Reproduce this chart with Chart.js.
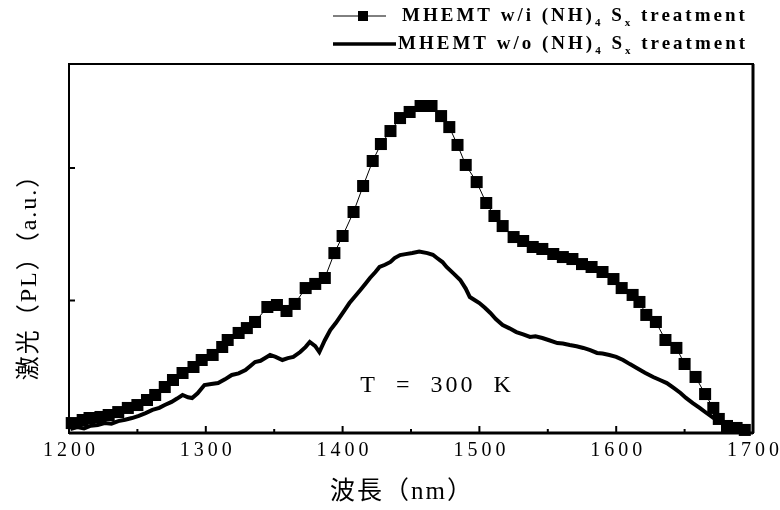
<!DOCTYPE html>
<html>
<head>
<meta charset="utf-8">
<script src="https://cdn.jsdelivr.net/npm/chart.js@4.4.1/dist/chart.umd.min.js"></script>
<style>
  html, body { margin: 0; padding: 0; background: #fff; }
</style>
</head>
<body>
<canvas id="myChart" width="780" height="510"></canvas>
<script>
// wavelength (nm) and PL intensity (a.u.)
const withNm = [1202, 1210, 1215, 1223, 1229, 1236, 1243, 1250, 1257, 1263, 1270, 1276, 1283, 1291, 1297,
  1305, 1312, 1316, 1324, 1330, 1336, 1345, 1352, 1359, 1365, 1373, 1380, 1387, 1394, 1400,
  1408, 1415, 1422, 1428, 1435, 1442, 1449, 1457, 1465, 1472, 1478, 1484, 1490, 1498, 1505,
  1511, 1517, 1525, 1532, 1539, 1546, 1554, 1561, 1568, 1575, 1582, 1590, 1598, 1604, 1612,
  1617, 1622, 1629, 1636, 1644, 1650, 1658, 1665, 1671, 1675, 1681, 1688, 1694];
const withVals = [0.075, 0.098, 0.113, 0.121, 0.136, 0.158, 0.189, 0.211, 0.249, 0.287, 0.347, 0.400, 0.453, 0.498, 0.551,
  0.589, 0.649, 0.702, 0.755, 0.792, 0.838, 0.951, 0.966, 0.921, 0.974, 1.094, 1.125, 1.170, 1.358, 1.487,
  1.668, 1.864, 2.053, 2.181, 2.279, 2.377, 2.423, 2.468, 2.468, 2.392, 2.309, 2.174, 2.023, 1.894, 1.736,
  1.638, 1.562, 1.479, 1.449, 1.404, 1.389, 1.351, 1.328, 1.313, 1.275, 1.253, 1.215, 1.162, 1.094, 1.042,
  0.989, 0.891, 0.838, 0.702, 0.642, 0.521, 0.423, 0.294, 0.189, 0.106, 0.053, 0.038, 0.023];

const withoutNm = [1201, 1206, 1211, 1216, 1221, 1226, 1231, 1236, 1241, 1246, 1251, 1256, 1261, 1266, 1270,
  1275, 1279, 1283, 1287, 1290, 1294, 1299, 1304, 1309, 1314, 1319, 1324, 1329, 1333, 1336,
  1340, 1344, 1347, 1351, 1356, 1360, 1364, 1369, 1373, 1376, 1380, 1383, 1387, 1391, 1395,
  1398, 1402, 1405, 1409, 1413, 1417, 1420, 1424, 1427, 1431, 1435, 1438, 1442, 1446, 1451,
  1456, 1462, 1466, 1469, 1473, 1476, 1481, 1486, 1490, 1493, 1497, 1500, 1504, 1508, 1512,
  1517, 1522, 1527, 1532, 1537, 1541, 1546, 1551, 1557, 1561, 1566, 1571, 1576, 1581, 1586,
  1590, 1595, 1600, 1605, 1610, 1615, 1621, 1627, 1632, 1637, 1642, 1647, 1651, 1656, 1661,
  1666, 1671, 1676, 1680, 1685, 1690, 1696];
const withoutVals = [0.030, 0.045, 0.035, 0.055, 0.060, 0.075, 0.070, 0.090, 0.100, 0.113, 0.130, 0.150, 0.174, 0.190, 0.211,
  0.235, 0.260, 0.287, 0.270, 0.264, 0.300, 0.362, 0.370, 0.377, 0.405, 0.438, 0.450, 0.475, 0.510, 0.536,
  0.545, 0.570, 0.589, 0.575, 0.551, 0.565, 0.574, 0.611, 0.650, 0.687, 0.655, 0.611, 0.700, 0.777, 0.830,
  0.875, 0.935, 0.981, 1.030, 1.079, 1.130, 1.170, 1.215, 1.253, 1.270, 1.291, 1.320, 1.343, 1.350, 1.358,
  1.370, 1.358, 1.345, 1.321, 1.290, 1.253, 1.205, 1.155, 1.090, 1.026, 1.000, 0.981, 0.945, 0.906, 0.860,
  0.815, 0.790, 0.762, 0.745, 0.725, 0.730, 0.717, 0.700, 0.679, 0.675, 0.664, 0.655, 0.642, 0.625, 0.604,
  0.600, 0.589, 0.575, 0.551, 0.520, 0.491, 0.455, 0.423, 0.400, 0.377, 0.340, 0.302, 0.265, 0.226, 0.190,
  0.151, 0.115, 0.083, 0.060, 0.038, 0.020, 0.008];

const xTicks = [1200, 1300, 1400, 1500, 1600, 1700];
const yTicks = [1, 2];

const serif = "'Liberation Serif', 'Times New Roman', serif";
const cjk = "'Liberation Serif', 'Noto Sans CJK TC', 'Noto Sans CJK SC', serif";

// text with subscripts, drawn piece by piece
function richText(ctx, parts, x, y) {
  parts.forEach(p => {
    ctx.font = p.sub ? 'bold 11px ' + serif : 'bold 19px ' + serif;
    ctx.fillText(p.t, x, p.sub ? y + 7 : y);
    x += ctx.measureText(p.t).width;
  });
}

const decor = {
  id: 'decor',
  afterDraw(chart) {
    const { ctx, chartArea: a, scales: { x, y } } = chart;
    ctx.save();
    ctx.strokeStyle = '#000';
    ctx.fillStyle = '#000';

    // frame
    ctx.lineWidth = 2;
    ctx.strokeRect(a.left, a.top, a.right - a.left, a.bottom - a.top);
    ctx.lineWidth = 3;
    ctx.beginPath();
    ctx.moveTo(a.left, a.bottom);
    ctx.lineTo(a.right, a.bottom);
    ctx.moveTo(a.right, a.top);
    ctx.lineTo(a.right, a.bottom);
    ctx.stroke();

    // inward ticks
    ctx.lineWidth = 2;
    xTicks.forEach((v, i) => {
      const px = x.getPixelForValue(v);
      if (i > 0 && i < xTicks.length - 1) {
        ctx.beginPath(); ctx.moveTo(px, a.bottom); ctx.lineTo(px, a.bottom - 7); ctx.stroke();
      }
      if (i < xTicks.length - 1) {
        const mx = x.getPixelForValue(v + 50);
        ctx.beginPath(); ctx.moveTo(mx, a.bottom); ctx.lineTo(mx, a.bottom - 4); ctx.stroke();
      }
    });
    yTicks.forEach(v => {
      const py = y.getPixelForValue(v);
      ctx.beginPath(); ctx.moveTo(a.left, py); ctx.lineTo(a.left + 6, py); ctx.stroke();
    });

    // x tick labels
    ctx.font = '20px ' + serif;
    ctx.letterSpacing = '4px';
    ctx.textAlign = 'center';
    ctx.textBaseline = 'top';
    xTicks.forEach(v => {
      ctx.fillText(String(v), x.getPixelForValue(v) + 2, a.bottom + 8);
    });

    // axis titles
    ctx.font = '25px ' + cjk;
    ctx.letterSpacing = '2px';
    ctx.textBaseline = 'middle';
    ctx.fillText('波長（nm）', 402, 492);
    ctx.save();
    ctx.translate(30, 271);
    ctx.rotate(-Math.PI / 2);
    ctx.font = '24px ' + cjk;
    ctx.fillText('激光（PL）（a.u.）', 0, 0);
    ctx.restore();

    // annotation
    ctx.font = '24px ' + serif;
    ctx.letterSpacing = '3px';
    ctx.fillText('T  =  300  K', 437, 386);

    // legend
    ctx.textAlign = 'left';
    ctx.letterSpacing = '3px';
    ctx.lineWidth = 1;
    ctx.beginPath(); ctx.moveTo(333, 16); ctx.lineTo(386, 16); ctx.stroke();
    ctx.fillRect(358, 11, 10, 10);
    richText(ctx, [{ t: 'MHEMT w/i (NH)' }, { t: '4', sub: true }, { t: ' S' }, { t: 'x', sub: true }, { t: ' treatment' }], 402, 16);
    ctx.lineWidth = 3.5;
    ctx.beginPath(); ctx.moveTo(333, 44); ctx.lineTo(396, 44); ctx.stroke();
    richText(ctx, [{ t: 'MHEMT w/o (NH)' }, { t: '4', sub: true }, { t: ' S' }, { t: 'x', sub: true }, { t: ' treatment' }], 398, 44);

    ctx.restore();
  }
};

const ctx = document.getElementById('myChart').getContext('2d');
const chart = new Chart(ctx, {
  type: 'line',
  data: {
    datasets: [{
      label: 'MHEMT w/i (NH)4 Sx treatment',
      data: withNm.map((v, i) => ({ x: v, y: withVals[i] })),
      borderColor: '#000',
      borderWidth: 1,
      pointStyle: 'rect',
      pointRadius: 8.5,
      pointBackgroundColor: '#000',
      pointBorderWidth: 0,
      clip: false,
      order: 0
    },
    {
      label: 'MHEMT w/o (NH)4 Sx treatment',
      data: withoutNm.map((v, i) => ({ x: v, y: withoutVals[i] })),
      borderColor: '#000',
      borderWidth: 4,
      pointRadius: 0,
      order: 1
    }]
  },
  options: {
    responsive: false,
    animation: false,
    devicePixelRatio: 1,
    layout: { padding: { top: 64, right: 27, left: 0, bottom: 0 } },
    plugins: { legend: { display: false }, tooltip: { enabled: false } },
    scales: {
      x: {
        type: 'linear', min: 1200, max: 1700,
        ticks: { stepSize: 100, display: false },
        grid: { display: false }, border: { display: false },
        afterFit(s) { s.height = 77; }
      },
      y: {
        min: 0, max: 2.785,
        ticks: { stepSize: 1, display: false },
        grid: { display: false }, border: { display: false },
        afterFit(s) { s.width = 69; }
      }
    }
  },
  plugins: [decor]
});
</script>
</body>
</html>
